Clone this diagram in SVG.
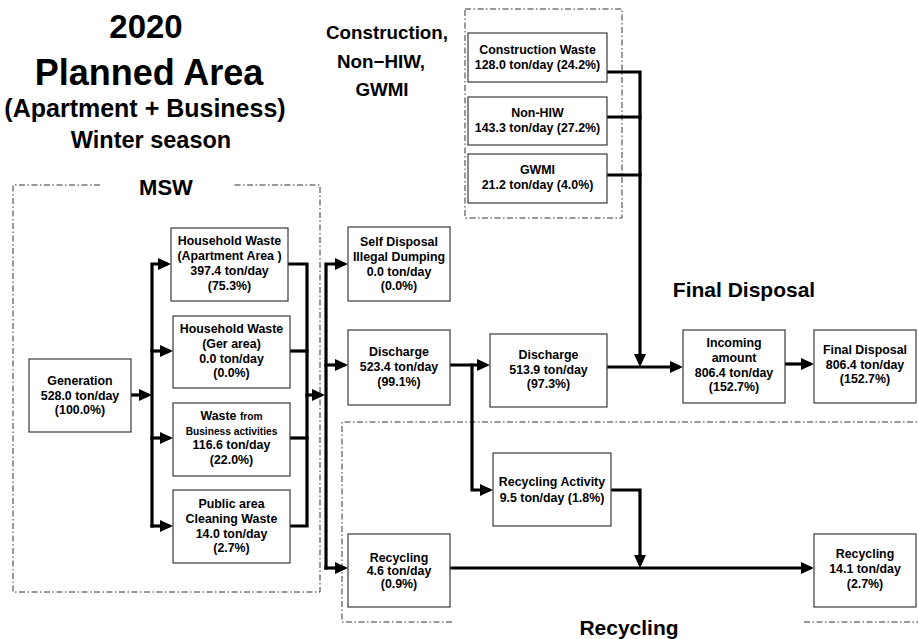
<svg xmlns="http://www.w3.org/2000/svg" width="918" height="639" viewBox="0 0 918 639">
<defs>
<style>
.box{fill:#fff;stroke:#3a3a3a;stroke-width:1.2}
.t{font-family:"Liberation Sans",Arial,sans-serif;font-weight:bold;font-size:12.4px;text-anchor:middle;fill:#000}
.s{font-size:10.2px}
.h{font-family:"Liberation Sans",Arial,sans-serif;font-weight:bold;text-anchor:middle;fill:#000}
.frame{fill:none;stroke:#333;stroke-width:1;stroke-dasharray:6 2.5 1.5 2.5}
.c{fill:none;stroke:#000;stroke-width:3.2;stroke-linejoin:miter;stroke-linecap:square}
.a{marker-end:url(#ah)}
</style>
<marker id="ah" markerUnits="userSpaceOnUse" markerWidth="13" markerHeight="12" refX="8" refY="6" orient="auto">
<path d="M0,0 L13,6 L0,12 z" fill="#000"/>
</marker>
</defs>
<rect width="918" height="639" fill="#fff"/>

<!-- title block -->
<g id="title">
<text class="h" x="146" y="38" font-size="33">2020</text>
<text class="h" x="149" y="85" font-size="36">Planned Area</text>
<text class="h" x="145" y="117" font-size="25">(Apartment + Business)</text>
<text class="h" x="151" y="148" font-size="23.5">Winter season</text>
</g>

<!-- group frames -->
<g id="frames">
<path class="frame" d="M100,185 H13 V592 H320 V185 H232"/>
<rect class="frame" x="465" y="9" width="157" height="209"/>
<path class="frame" d="M452,622 H342 V422 H918"/>
<path class="frame" d="M804,622 H918"/>
<text class="h" x="166" y="195" font-size="22">MSW</text>
<text class="h" x="387" y="39" font-size="18.8">Construction,</text>
<text class="h" x="381" y="68" font-size="18.8">Non−HIW,</text>
<text class="h" x="382" y="96" font-size="18.8">GWMI</text>
<text class="h" x="744" y="297" font-size="21">Final Disposal</text>
<text class="h" x="629" y="635" font-size="21">Recycling</text>
</g>

<!-- connectors -->
<g id="connectors">
<path class="c a" d="M131,395 H147"/>
<path class="c a" d="M152,526 V264 H166"/>
<path class="c a" d="M152,351 H168"/>
<path class="c a" d="M152,438 H168"/>
<path class="c a" d="M152,526 H168"/>
<path class="c" d="M288,264 H307 V526 H290"/>
<path class="c" d="M290,351 H307"/>
<path class="c" d="M290,438 H307"/>
<path class="c a" d="M307,395 H320"/>
<path class="c a" d="M326,568 V264 H343"/>
<path class="c a" d="M326,365 H343"/>
<path class="c a" d="M326,568 H343"/>
<path class="c a" d="M450,365 H485"/>
<path class="c a" d="M472,365 V490 H488"/>
<path class="c a" d="M607,367 H678"/>
<path class="c a" d="M607,72 H640 V362"/>
<path class="c" d="M607,117 H640"/>
<path class="c" d="M607,175 H640"/>
<path class="c a" d="M785,364 H809"/>
<path class="c a" d="M450,568 H809"/>
<path class="c a" d="M611,490 H640 V563"/>
</g>

<!-- nodes -->
<g id="generation">
<rect class="box" x="29" y="359" width="102" height="73"/>
<text class="t" x="80" y="385">Generation</text>
<text class="t" x="80" y="400">528.0 ton/day</text>
<text class="t" x="80" y="414">(100.0%)</text>
</g>
<g id="household-apartment">
<rect class="box" x="171" y="228" width="117" height="73"/>
<text class="t" x="229.5" y="245">Household Waste</text>
<text class="t" x="229.5" y="260">(Apartment Area )</text>
<text class="t" x="229.5" y="275">397.4 ton/day</text>
<text class="t" x="229.5" y="290">(75.3%)</text>
</g>
<g id="household-ger">
<rect class="box" x="173" y="316" width="117" height="72"/>
<text class="t" x="231.5" y="333">Household Waste</text>
<text class="t" x="231.5" y="348">(Ger area)</text>
<text class="t" x="231.5" y="363">0.0 ton/day</text>
<text class="t" x="231.5" y="377">(0.0%)</text>
</g>
<g id="business">
<rect class="box" x="173" y="403" width="117" height="73"/>
<text class="t" x="231.5" y="420">Waste <tspan class="s">from</tspan></text>
<text class="t s" x="231.5" y="435">Business activities</text>
<text class="t" x="231.5" y="449">116.6 ton/day</text>
<text class="t" x="231.5" y="464">(22.0%)</text>
</g>
<g id="public-area">
<rect class="box" x="173" y="490" width="117" height="73"/>
<text class="t" x="231.5" y="508">Public area</text>
<text class="t" x="231.5" y="523">Cleaning Waste</text>
<text class="t" x="231.5" y="538">14.0 ton/day</text>
<text class="t" x="231.5" y="552">(2.7%)</text>
</g>
<g id="self-disposal">
<rect class="box" x="348" y="227" width="102" height="74"/>
<text class="t" x="399" y="246">Self Disposal</text>
<text class="t" x="399" y="261">Illegal Dumping</text>
<text class="t" x="399" y="276">0.0 ton/day</text>
<text class="t" x="399" y="290">(0.0%)</text>
</g>
<g id="discharge-1">
<rect class="box" x="348" y="330" width="102" height="75"/>
<text class="t" x="399" y="356">Discharge</text>
<text class="t" x="399" y="371">523.4 ton/day</text>
<text class="t" x="399" y="386">(99.1%)</text>
</g>
<g id="discharge-2">
<rect class="box" x="490" y="334" width="117" height="73"/>
<text class="t" x="548.5" y="359">Discharge</text>
<text class="t" x="548.5" y="374">513.9 ton/day</text>
<text class="t" x="548.5" y="388">(97.3%)</text>
</g>
<g id="construction-waste">
<rect class="box" x="468" y="33" width="139" height="49"/>
<text class="t" x="537.5" y="54">Construction Waste</text>
<text class="t" x="537.5" y="69">128.0 ton/day (24.2%)</text>
</g>
<g id="non-hiw">
<rect class="box" x="468" y="97" width="139" height="48"/>
<text class="t" x="537.5" y="117">Non-HIW</text>
<text class="t" x="537.5" y="132">143.3 ton/day (27.2%)</text>
</g>
<g id="gwmi">
<rect class="box" x="468" y="154" width="139" height="49"/>
<text class="t" x="537.5" y="174">GWMI</text>
<text class="t" x="537.5" y="189">21.2 ton/day (4.0%)</text>
</g>
<g id="incoming">
<rect class="box" x="683" y="330" width="102" height="73"/>
<text class="t" x="734" y="347">Incoming</text>
<text class="t" x="734" y="362">amount</text>
<text class="t" x="734" y="377">806.4 ton/day</text>
<text class="t" x="734" y="391">(152.7%)</text>
</g>
<g id="final-disposal">
<rect class="box" x="814" y="330" width="102" height="73"/>
<text class="t" x="865" y="354">Final Disposal</text>
<text class="t" x="865" y="369">806.4 ton/day</text>
<text class="t" x="865" y="383">(152.7%)</text>
</g>
<g id="recycling-activity">
<rect class="box" x="493" y="453" width="118" height="73"/>
<text class="t" x="552" y="486">Recycling Activity</text>
<text class="t" x="552" y="502">9.5 ton/day (1.8%)</text>
</g>
<g id="recycling-msw">
<rect class="box" x="348" y="534" width="102" height="73"/>
<text class="t" x="399" y="562">Recycling</text>
<text class="t" x="399" y="575">4.6 ton/day</text>
<text class="t" x="399" y="588">(0.9%)</text>
</g>
<g id="recycling-total">
<rect class="box" x="814" y="534" width="102" height="73"/>
<text class="t" x="865" y="558">Recycling</text>
<text class="t" x="865" y="573">14.1 ton/day</text>
<text class="t" x="865" y="588">(2.7%)</text>
</g>
</svg>
